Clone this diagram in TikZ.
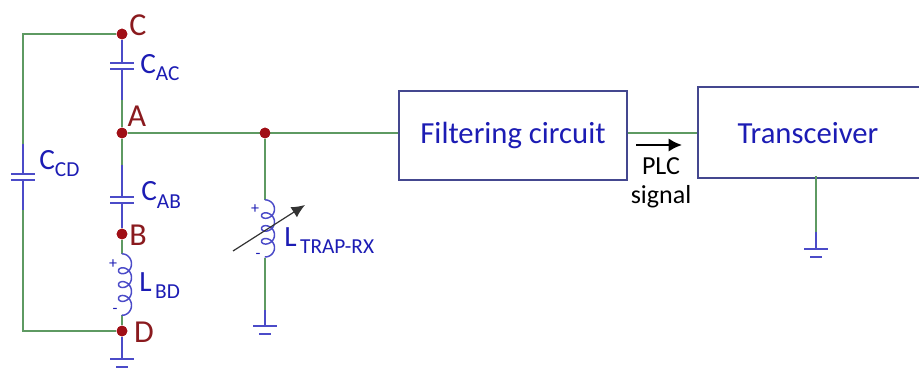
\documentclass[tikz,border=0pt]{standalone}
\usepackage{fontspec}
\setmainfont{Carlito}
\usetikzlibrary{positioning,calc,arrows.meta}
\tikzset{>=latex}
\definecolor{wiregreen}{HTML}{5E9A62}
\definecolor{partblue}{HTML}{4B4BC8}
\definecolor{boxblue}{HTML}{44478F}
\definecolor{textblue}{HTML}{1C1CB4}
\definecolor{nodered}{HTML}{A00F16}
\definecolor{letterred}{HTML}{8A1A1E}
\newcommand{\sublabel}[2]{#1\raisebox{-0.24em}{\fontsize{16}{16}\selectfont #2}}
\begin{document}
\begin{tikzpicture}[x=0.75pt,y=-0.75pt,
                    junction/.style={circle,fill=nodered,inner sep=0,minimum size=8},
                    letter/.style={text=letterred,inner sep=0,font=\fontsize{24}{24}\selectfont},
                    partname/.style={text=textblue,inner sep=0,anchor=west,font=\fontsize{22}{22}\selectfont},
                    sign/.style={text=textblue,inner sep=0,font=\fontsize{12}{12}\selectfont},
                    block/.style={draw=boxblue,line width=1.5pt,fill=white,text=textblue,inner sep=0,font=\fontsize{23}{23}\selectfont},
                    green wire/.style={draw=wiregreen,line width=1.4pt},
                    blue wire/.style={draw=partblue,line width=1.4pt},
                    capac/.pic={\draw[blue wire] (-12,-3) -- (12,-3) (-12,3) -- (12,3);},
                    coil/.pic={\draw[draw=partblue,line width=1.1pt] plot[domain=-120:1200,samples=160,smooth]
                        ({3+6.5*cos(\x)},{\x/26+6*sin(\x)+9.8});},
                    earth/.pic={\draw[blue wire] (-12,0) -- (12,0) (-6,8) -- (6,8);},
       ]
       \useasboundingbox (0,0) rectangle (919,367);
       % blocks
       \node[block,minimum width=171,minimum height=67] (filter) at (513,135.5) {Filtering circuit};
       \node[block,minimum width=200,minimum height=68,anchor=north west] (transceiver) at (697,86) {};
       \node[text=textblue,inner sep=0,font=\fontsize{23}{23}\selectfont] (transname) at (808,133) {Transceiver};
       % junctions
       \node[junction] (C) at (122,34) {};
       \node[junction] (A) at (122,133) {};
       \node[junction] (B) at (122,234) {};
       \node[junction] (D) at (122,331) {};
       \node[junction] (T) at (265,133) {};
       \coordinate (Cleft) at (23,34);
       \coordinate (Dleft) at (23,331);
       % green wiring
       \draw[green wire] (C) -- (Cleft) -- (Dleft) -- (D);
       \draw[green wire,line width=1.2pt] (A) -- (A -| filter.west);
       \draw[green wire,line width=1.2pt] (A -| filter.east) -- (A -| transceiver.west);
       \coordinate (ACend) at (122,100);
       \coordinate (ABend) at (122,165);
       \coordinate (BDtop) at (122,254);
       \coordinate (BDbot) at (122,315);
       \coordinate (BDgnd) at (122,359);
       \coordinate (TRtop) at (265,200);
       \coordinate (TRbot) at (265,258);
       \coordinate (TRmid) at (265,310);
       \coordinate (TRgnd) at (265,326);
       \coordinate (TXout) at (816,176);
       \coordinate (TXmid) at (816,232);
       \coordinate (TXgnd) at (816,249);
       \coordinate (CDtop) at (23,144);
       \coordinate (CDbot) at (23,210);
       \draw[green wire] (ACend) -- (A) -- (ABend);
       \draw[green wire] (B) -- (BDtop);
       \draw[green wire] (BDbot) -- (D);
       \draw[green wire] (T) -- (TRtop);
       \draw[green wire] (TRbot) -- (TRmid);
       \draw[green wire] (TXout) -- (TXmid);
       % blue parts
       \draw[blue wire] (C) -- (122,63) (122,69) -- (ACend);
       \draw[blue wire] (ABend) -- (122,197) (122,203) -- (B);
       \draw[draw=white,line width=6pt] (CDtop) -- (CDbot);
       \draw[blue wire] (CDtop) -- (23,174) (23,180) -- (CDbot);
       \draw[blue wire] (D) -- (BDgnd);
       \draw[blue wire] (TRmid) -- (TRgnd);
       \draw[blue wire] (TXmid) -- (TXgnd);
       \pic at (122,66) {capac};
       \pic at (122,200) {capac};
       \pic at (23,177) {capac};
       \pic at (BDtop) {coil};
       \pic[yscale=0.93] at (TRtop) {coil};
       \pic at (BDgnd) {earth};
       \pic at (TRgnd) {earth};
       \pic at (TXgnd) {earth};
       % redraw junctions on top of the wires
       \foreach \j in {C,A,B,D,T} \fill[nodered] (\j) circle (4pt);
       % variable inductor arrow
       \coordinate (arrowtail) at (233,251);
       \coordinate (arrowhead) at (305,205);
       \draw[-{Latex[length=10pt,width=9pt]},draw=black!80,line width=0.9pt] (arrowtail) -- (arrowhead);
       % signal arrow
       \coordinate (plctail) at (636,145);
       \coordinate (plchead) at (682,145);
       \draw[-{Latex[length=10pt,width=10pt]},black,line width=1.6pt] (plctail) -- (plchead);
       \node[inner sep=0,font=\fontsize{19.5}{19.5}\selectfont] (plc) at (661,166) {PLC};
       \node[inner sep=0,font=\fontsize{19.5}{19.5}\selectfont] (signal) at (661,197) {signal};
       % names
       \node[letter] (Cname) at (138,25) {C};
       \node[letter] (Aname) at (137,116) {A};
       \node[letter] (Bname) at (138,235) {B};
       \node[letter] (Dname) at (144,332) {D};
       \node[partname] (Cac) at (140,68) {\sublabel{C}{AC}};
       \node[partname] (Cab) at (141,195) {\sublabel{C}{AB}};
       \node[partname] (Ccd) at (39,164) {\sublabel{C}{CD}};
       \node[partname] (Lbd) at (139,286) {\sublabel{L}{\,BD}};
       \node[partname] (Ltrap) at (284,241) {\sublabel{L}{\,TRAP-RX}};
       \node[sign] (plusbd) at (113,264) {+};
       \node[sign] (minusbd) at (115,311) {-};
       \node[sign] (plustr) at (255,209) {+};
       \node[sign] (minustr) at (258,256) {-};
\end{tikzpicture}
\end{document}
